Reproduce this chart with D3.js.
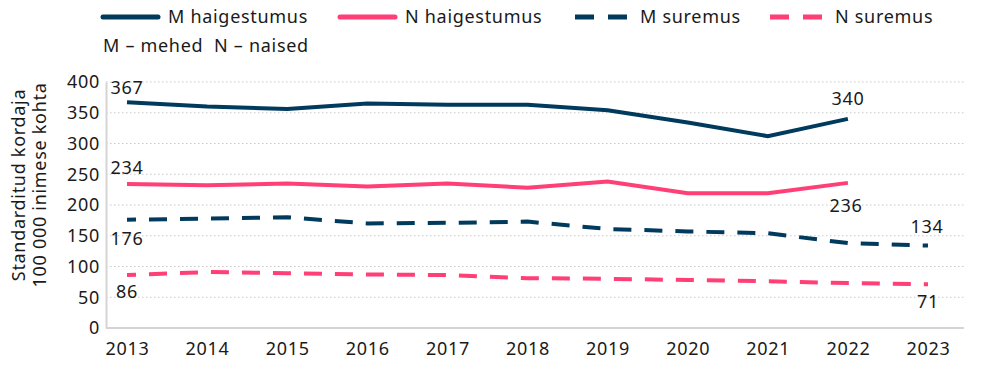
<!DOCTYPE html>
<html>
<head>
<meta charset="utf-8">
<script src="https://cdn.jsdelivr.net/npm/d3@7"></script>
<style>
  body { margin: 0; background: #fff; }
  #chart { width: 990px; height: 374px; }
  text { font-family: "Noto Sans", sans-serif; fill: #1a1a1a; letter-spacing: 0.7px; }
</style>
</head>
<body>
<div id="chart"></div>
<script>
const years = [2013, 2014, 2015, 2016, 2017, 2018, 2019, 2020, 2021, 2022, 2023];
const mHaig = [367, 360, 356, 365, 363, 363, 354, 334, 312, 340, null];
const nHaig = [234, 232, 235, 230, 235, 228, 238, 219, 219, 236, null];
const mSur  = [176, 178, 180, 170, 171, 173, 161, 157, 154, 138, 134];
const nSur  = [86, 91, 89, 87, 86, 81, 80, 78, 76, 73, 71];
const yTicks = [0, 50, 100, 150, 200, 250, 300, 350, 400];

const navy = "#003a5d", pink = "#ff3f76";

const series = [
  {name: "M haigestumus", values: mHaig, color: navy, dash: null},
  {name: "N haigestumus", values: nHaig, color: pink, dash: null},
  {name: "M suremus", values: mSur, color: navy, dash: "18,13"},
  {name: "N suremus", values: nSur, color: pink, dash: "18,13"}
];

const margin = {top: 82, right: 26, bottom: 46, left: 106};
const W = 990, H = 374;
const width = W - margin.left - margin.right;
const height = H - margin.top - margin.bottom;

const svg = d3.select("#chart").append("svg")
  .attr("width", W).attr("height", H);
const g = svg.append("g")
  .attr("transform", "translate(" + margin.left + "," + margin.top + ")");

const x = d3.scalePoint().domain(years).range([21, 822]);
const y = d3.scaleLinear().domain([0, 400]).range([height, 0]);

// gridlines
g.selectAll(".grid").data(yTicks.filter(d => d > 0)).enter().append("line")
  .attr("x1", 0).attr("x2", width)
  .attr("y1", d => y(d)).attr("y2", d => y(d))
  .attr("stroke", "#c8c8c8").attr("stroke-width", 1)
  .attr("stroke-dasharray", "1.5,2.5");

// axes
const yAxis = g.append("g").call(d3.axisLeft(y).tickValues(yTicks).tickSize(0).tickPadding(6));
yAxis.select(".domain").attr("stroke", "#d4d4d4").attr("stroke-width", 2);
yAxis.selectAll("text").style("font-size", "18px").attr("fill", "#1a1a1a");

const xAxis = g.append("g").attr("transform", "translate(0," + height + ")")
  .call(d3.axisBottom(x).tickSize(0).tickPadding(14));
xAxis.select(".domain").attr("stroke", "#d4d4d4").attr("stroke-width", 2)
  .attr("d", "M0,0H" + width);
xAxis.selectAll("text").style("font-size", "18px").attr("fill", "#1a1a1a");

// lines
const line = d3.line()
  .defined(d => d != null)
  .x((d, i) => x(years[i]))
  .y(d => y(d));

series.forEach(s => {
  g.append("path")
    .datum(s.values)
    .attr("fill", "none")
    .attr("stroke", s.color)
    .attr("stroke-width", 4)
    .attr("stroke-dasharray", s.dash)
    .attr("stroke-dashoffset", s.dash ? 9 : null)
    .attr("d", line);
});

// data labels
const labels = [
  {v: mHaig[0], yr: 2013, dy: -8, dx: 0},
  {v: nHaig[0], yr: 2013, dy: -10, dx: 0},
  {v: mSur[0], yr: 2013, dy: 25, dx: 0},
  {v: nSur[0], yr: 2013, dy: 23, dx: 0},
  {v: mHaig[9], yr: 2022, dy: -14, dx: 0},
  {v: nHaig[9], yr: 2022, dy: 29, dx: -2},
  {v: mSur[10], yr: 2023, dy: -13, dx: -1},
  {v: nSur[10], yr: 2023, dy: 24, dx: 0}
];
g.selectAll(".lbl").data(labels).enter().append("text")
  .attr("x", d => x(d.yr) + d.dx)
  .attr("y", d => y(d.v) + d.dy)
  .attr("text-anchor", "middle")
  .style("font-size", "18px")
  .text(d => d.v);

// y title
const yt = svg.append("text")
  .attr("transform", "translate(25,185) rotate(-90)")
  .attr("text-anchor", "middle")
  .style("font-size", "18px");
yt.append("tspan").attr("x", 0).attr("dy", 0).text("Standarditud kordaja");
yt.append("tspan").attr("x", 0).attr("dy", 21).text("100 000 inimese kohta");

// legend
const legX = [103, 340, 575, 770];
const leg = svg.selectAll(".leg").data(series).enter().append("g")
  .attr("transform", (d, i) => "translate(" + legX[i] + ",17)");
leg.append("line")
  .attr("x1", 0).attr("x2", 55).attr("y1", 0).attr("y2", 0)
  .attr("stroke", d => d.color).attr("stroke-width", 5)
  .attr("stroke-linecap", d => d.dash ? "butt" : "round")
  .attr("stroke-dasharray", d => d.dash ? "19,14" : null);
leg.append("text")
  .attr("x", d => d.dash ? 65 : 65).attr("y", 6)
  .style("font-size", "18px")
  .text(d => d.name);

svg.append("text").attr("x", 103).attr("y", 52)
  .style("font-size", "18px")
  .text("M – mehed\u00a0\u00a0N – naised");
</script>
</body>
</html>
